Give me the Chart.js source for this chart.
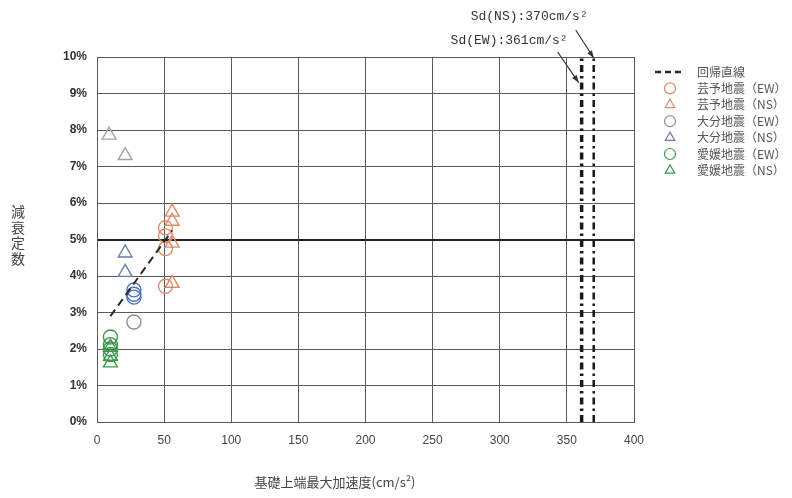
<!DOCTYPE html>
<html>
<head>
<meta charset="utf-8">
<script src="https://cdn.jsdelivr.net/npm/chart.js@4.4.1/dist/chart.umd.min.js"></script>
<style>
  html, body { margin: 0; padding: 0; background: #fff; }
  #wrap { width: 792px; height: 498px; }
</style>
</head>
<body>
<div id="wrap"><canvas id="c" width="792" height="498"></canvas></div>
<script>
// ── data (x: cm/s², y: %) ────────────────────────────────────────────
const geiyoEW_x = [51, 51, 51, 51];
const geiyoEW_y = [5.32, 5.1, 4.75, 3.72];
const geiyoNS_x = [56, 56, 56, 56];
const geiyoNS_y = [5.75, 5.5, 4.9, 3.8];
const oitaEW_x = [27.5, 27.5, 27.5, 27.5];
const oitaEW_y = [3.62, 3.5, 3.42, 2.74];
const oitaNS_x = [9, 21, 21, 21];
const oitaNS_y = [7.86, 7.3, 4.63, 4.1];
const ehimeEW_x = [10, 10, 10, 10];
const ehimeEW_y = [2.33, 2.12, 2.0, 1.85];
const ehimeNS_x = [10, 10, 10];
const ehimeNS_y = [2.05, 1.8, 1.62];
const regress_x = [10, 56];
const regress_y = [2.9, 5.25];
const sdEW = 361;
const sdNS = 370;
const xTicks = [0, 50, 100, 150, 200, 250, 300, 350, 400];
const yTicks = [0, 1, 2, 3, 4, 5, 6, 7, 8, 9, 10];

const COL = {
  orange: "#e08a66",
  blue: "#4a6fc0",
  blueGrey: "#6a7ea8",
  grey: "#8c8f94",
  greenGrey: "#9aab9c",
  green: "#3c9a4c",
  grid: "#5a5a5a",
  text: "#444",
};

const pts = (xs, ys) => xs.map((x, i) => ({ x, y: ys[i] }));

function markerSet(label, xs, ys, style, colour, size) {
  return {
    label, data: pts(xs, ys), pointStyle: style,
    pointRadius: size, pointBorderWidth: 1.4,
    pointBackgroundColor: "rgba(0,0,0,0)", pointBorderColor: colour,
    borderColor: Array.isArray(colour) ? colour[colour.length - 1] : colour, showLine: false,
  };
}

const datasets = [
  {
    label: "回帰直線", data: pts(regress_x, regress_y), showLine: true,
    borderColor: "#2a2a2a", borderWidth: 2, borderDash: [8, 5], pointRadius: 0,
  },
  markerSet("芸予地震（EW）", geiyoEW_x, geiyoEW_y, "circle", COL.orange, 7),
  markerSet("芸予地震（NS）", geiyoNS_x, geiyoNS_y, "triangle", COL.orange, 8),
  markerSet("大分地震（EW）", oitaEW_x, oitaEW_y, "circle",
    [COL.blue, COL.blue, COL.blue, COL.grey], 7),
  markerSet("大分地震（NS）", oitaNS_x, oitaNS_y, "triangle",
    [COL.greenGrey, COL.greenGrey, COL.blueGrey, COL.blueGrey], 8),
  markerSet("愛媛地震（EW）", ehimeEW_x, ehimeEW_y, "circle", COL.green, 7),
  markerSet("愛媛地震（NS）", ehimeNS_x, ehimeNS_y, "triangle", COL.green, 8),
  {
    label: "Sd(EW)", data: [{ x: sdEW, y: 0 }, { x: sdEW, y: 10 }], showLine: true,
    borderColor: "#1a1a1a", borderWidth: 3.5, borderDash: [7, 4, 2.5, 4], pointRadius: 0,
  },
  {
    label: "Sd(NS)", data: [{ x: sdNS, y: 0 }, { x: sdNS, y: 10 }], showLine: true,
    borderColor: "#1a1a1a", borderWidth: 2.5, borderDash: [7, 4, 2.5, 4], pointRadius: 0,
  },
];

// ── extra drawing: axis titles, Sd labels with arrows, legend ───────────
function arrow(ctx, x1, y1, x2, y2) {
  ctx.beginPath(); ctx.moveTo(x1, y1); ctx.lineTo(x2, y2); ctx.stroke();
  const a = Math.atan2(y2 - y1, x2 - x1), L = 8;
  ctx.beginPath();
  ctx.moveTo(x2, y2);
  ctx.lineTo(x2 - L * Math.cos(a - 0.35), y2 - L * Math.sin(a - 0.35));
  ctx.lineTo(x2 - L * Math.cos(a + 0.35), y2 - L * Math.sin(a + 0.35));
  ctx.closePath(); ctx.fill();
}

const extras = {
  id: "extras",
  afterDraw(chart) {
    const { ctx, scales: { x, y } } = chart;
    ctx.save();
    ctx.fillStyle = COL.text;
    ctx.strokeStyle = "#333";
    ctx.textBaseline = "middle";

    // y title, upright stacked characters
    ctx.font = "14px 'Noto Sans CJK JP'";
    ctx.textAlign = "center";
    [..."減衰定数"].forEach((ch, i) => ctx.fillText(ch, 18, 212 + i * 15.5));
    // x title
    ctx.font = "13px 'Noto Sans CJK JP'";
    ctx.fillText("基礎上端最大加速度(cm/s²)", 335, 482);

    // Sd labels
    ctx.font = "13px 'Liberation Mono'";
    ctx.fillStyle = "#333";
    ctx.textAlign = "right";
    ctx.fillText("Sd(NS):370cm/s²", x.getPixelForValue(sdNS) - 6, 17);
    ctx.fillText("Sd(EW):361cm/s²", x.getPixelForValue(sdEW) - 14, 41);
    ctx.lineWidth = 1.2;
    ctx.fillStyle = "#333";
    arrow(ctx, x.getPixelForValue(sdNS) - 18, 30, x.getPixelForValue(sdNS), y.getPixelForValue(10) + 1);
    arrow(ctx, x.getPixelForValue(sdEW) - 24, 52, x.getPixelForValue(sdEW) - 3, y.getPixelForValue(9.3));

    // legend
    const lx = 670, ly = 72, step = 16.4;
    ctx.font = "12px 'Noto Sans CJK JP'";
    ctx.textAlign = "left";
    ctx.fillStyle = "#555";
    ctx.strokeStyle = "#2a2a2a";
    ctx.lineWidth = 2.5;
    ctx.setLineDash([6, 4]);
    ctx.beginPath(); ctx.moveTo(655, ly); ctx.lineTo(684, ly); ctx.stroke();
    ctx.setLineDash([]);
    ctx.fillText("回帰直線", 697, ly);
    chart.data.datasets.slice(1, 7).forEach((ds, i) => {
      const yy = ly + step * (i + 1);
      ctx.strokeStyle = ds.borderColor;
      ctx.fillStyle = "rgba(0,0,0,0)";
      ctx.lineWidth = 1.2;
      Chart.helpers.drawPoint(ctx, { pointStyle: ds.pointStyle, radius: 5.5, borderWidth: 1.2 }, lx, yy);
      ctx.fillStyle = "#555";
      ctx.fillText(ds.label, 697, yy);
    });
    ctx.restore();
  },
};

new Chart(document.getElementById("c"), {
  type: "scatter",
  data: { datasets },
  options: {
    responsive: false,
    animation: false,
    layout: { padding: { top: 57, right: 158, left: 0, bottom: 0 } },
    plugins: { legend: { display: false }, tooltip: { enabled: false } },
    scales: {
      x: {
        min: 0, max: 400,
        afterFit: (s) => { s.height = 76; },
        afterBuildTicks: (s) => { s.ticks = xTicks.map((v) => ({ value: v })); },
        grid: { color: COL.grid, lineWidth: 1, drawTicks: false },
        border: { color: COL.grid },
        ticks: { padding: 11, color: "#444", font: { family: "Liberation Sans", size: 12 } },
      },
      y: {
        min: 0, max: 10,
        afterFit: (s) => { s.width = 97; },
        afterBuildTicks: (s) => { s.ticks = yTicks.map((v) => ({ value: v })); },
        grid: {
          color: (c) => (c.tick && c.tick.value === 5 ? "#222" : COL.grid),
          lineWidth: (c) => (c.tick && c.tick.value === 5 ? 2 : 1),
          drawTicks: false,
        },
        border: { color: COL.grid },
        ticks: {
          padding: 10, color: "#333",
          font: { family: "Liberation Sans", size: 12, weight: "bold" },
          callback: (v) => v + "%",
        },
      },
    },
  },
  plugins: [extras],
});
</script>
</body>
</html>
